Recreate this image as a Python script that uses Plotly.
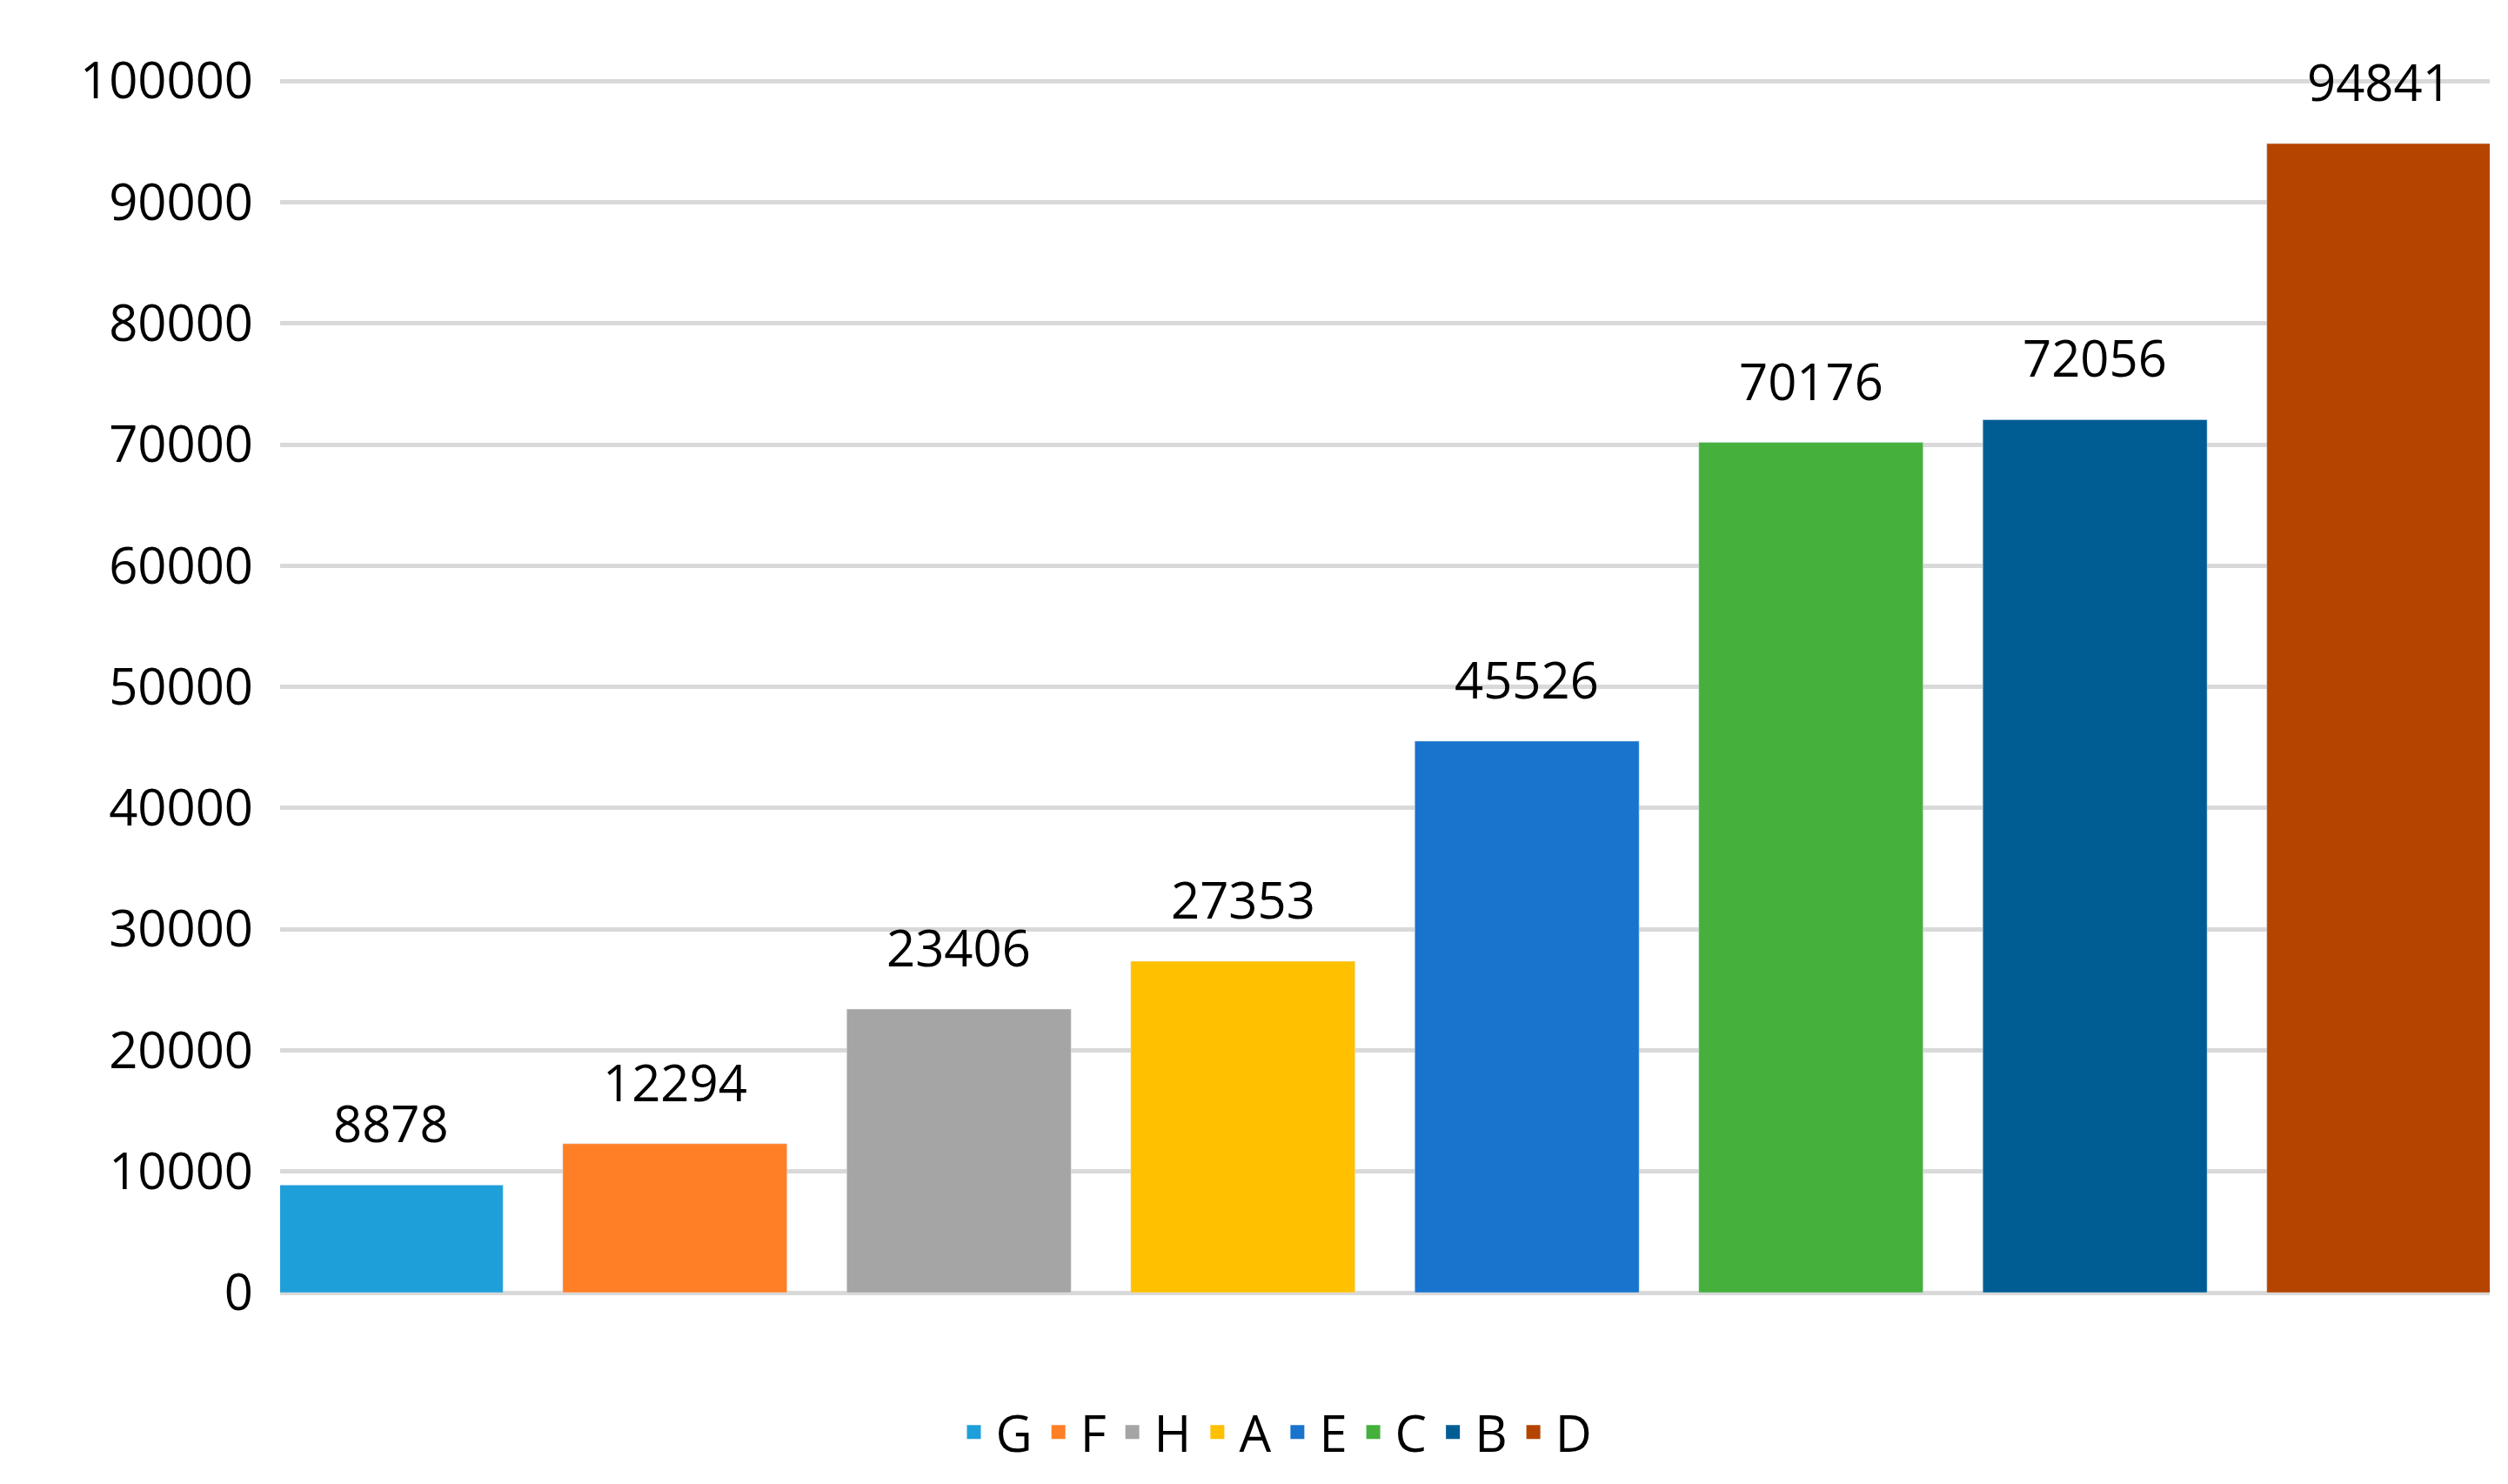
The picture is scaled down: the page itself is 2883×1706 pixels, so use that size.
import plotly.graph_objects as go

names = ["G", "F", "H", "A", "E", "C", "B", "D"]
values = [8878, 12294, 23406, 27353, 45526, 70176, 72056, 94841]
colors = ["#1F9FDA", "#FF7F27", "#A5A5A5", "#FFC000", "#1874CD", "#45B03C", "#005D94", "#B54400"]

fig = go.Figure()
for n, v, c in zip(names, values, colors):
    fig.add_trace(go.Bar(x=[n], y=[v], name=n, marker_color=c, showlegend=False))
    fig.add_annotation(x=n, y=v, text=str(v), showarrow=False, yanchor="bottom", yshift=30,
                       font=dict(size=58, color="#000000"))
for n, c in zip(names, colors):
    fig.add_trace(go.Scatter(x=[None], y=[None], mode="markers", name=n,
                             marker=dict(symbol="square", size=40, color=c)))

fig.update_layout(
    width=2883, height=1706, paper_bgcolor="white", plot_bgcolor="white",
    margin=dict(l=314, r=29, t=81, b=228),
    font=dict(family="Open Sans", size=58, color="#000000"),
    bargap=0.21,
    legend=dict(orientation="h", x=0.45, xanchor="center", y=-0.115, yanchor="middle",
                font=dict(size=58), itemwidth=40, tracegroupgap=0),
    xaxis=dict(showticklabels=False, showgrid=False, range=[-0.39, 7.39], categoryorder="array", categoryarray=names),
    yaxis=dict(range=[0, 100300], tickvals=list(range(0, 100001, 10000)), tickformat="d",
               showgrid=True, gridcolor="#D9D9D9", gridwidth=5,
               zeroline=True, zerolinecolor="#D9D9D9", zerolinewidth=5, ticks="", ticklabelstandoff=30,
               tickfont=dict(size=58)),
)
fig.write_html("out.html")
